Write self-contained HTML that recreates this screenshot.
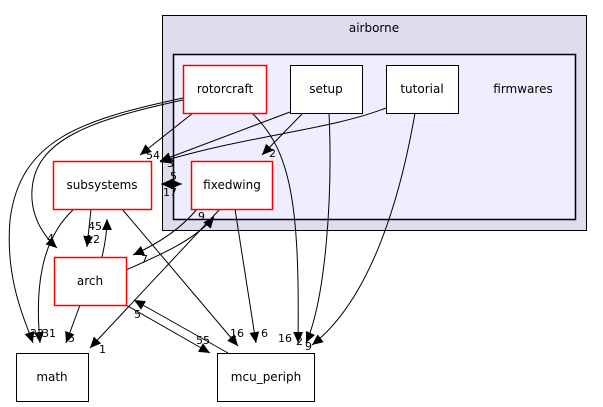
<!DOCTYPE html>
<html><head><meta charset="utf-8"><style>
html,body{margin:0;padding:0;background:#fff;width:603px;height:407px;overflow:hidden}
svg{display:block}
text{font-family:"DejaVu Sans","Liberation Sans",sans-serif}
</style></head><body>
<svg width="603" height="407" viewBox="0 0 603 407" xmlns="http://www.w3.org/2000/svg">
<defs>
<marker id="a" viewBox="0 0 10 10" refX="10" refY="5" markerWidth="11" markerHeight="11" markerUnits="userSpaceOnUse" orient="auto"><path d="M0,0.5 L10,5 L0,9.5 z" fill="#000"/></marker>
</defs>
<rect x="162.5" y="15.5" width="424" height="215" fill="#ddddee" stroke="#000"/>
<text x="374" y="32" font-size="12" text-anchor="middle">airborne</text>
<rect x="173.5" y="54.5" width="402" height="165" fill="#eeeeff" stroke="#000" stroke-width="1.5"/>
<text x="523" y="93" font-size="12" text-anchor="middle">firmwares</text>

<g fill="none" stroke="#000" stroke-width="1">
<path d="M183,98 C80,120 20,140 10,220 C5,280 25,320 33,343" marker-end="url(#a)"/>
<path d="M183,100 C90,120 35,140 32,190 C30,220 48,240 57,248" marker-end="url(#a)"/>
<path d="M193,113 L140,155" marker-end="url(#a)"/>
<path d="M252,113 C290,150 300,200 298,343" marker-end="url(#a)"/>
<path d="M290,112 L160,161" marker-end="url(#a)"/>
<path d="M303,113 L262,155" marker-end="url(#a)"/>
<path d="M329,113 C333,200 325,300 306,343" marker-end="url(#a)"/>
<path d="M386,108 C330,130 250,135 160,162" marker-end="url(#a)"/>
<path d="M415,113 C400,200 370,300 312,345" marker-end="url(#a)"/>
<path d="M161,184 L182,184" marker-end="url(#a)"/>
<path d="M182,184 L161,184" marker-end="url(#a)"/>
<path d="M91,209 L87,247" marker-end="url(#a)"/>
<path d="M102,257 C106,240 107,230 107,219" marker-end="url(#a)"/>
<path d="M74,209 C40,240 35,290 40,343" marker-end="url(#a)"/>
<path d="M122,209 L238,346" marker-end="url(#a)"/>
<path d="M197,209 C180,230 155,245 133,255" marker-end="url(#a)"/>
<path d="M126,270 C160,255 195,240 214,217" marker-end="url(#a)"/>
<path d="M220,209 L90,348" marker-end="url(#a)"/>
<path d="M235,209 L256,343" marker-end="url(#a)"/>
<path d="M80,305 L66,343" marker-end="url(#a)"/>
<path d="M126,305 L210,353" marker-end="url(#a)"/>
<path d="M228,353 L134,300" marker-end="url(#a)"/>
</g>

<g font-size="11" fill="#000">
<text x="146" y="159">54</text>
<text x="167" y="167">3</text>
<text x="170" y="180">5</text>
<text x="163" y="196">17</text>
<text x="269" y="157">2</text>
<text x="47" y="242">4</text>
<text x="88" y="230">45</text>
<text x="86" y="243">12</text>
<text x="198" y="220">9</text>
<text x="141" y="263">7</text>
<text x="134" y="318">5</text>
<text x="30" y="337">23</text>
<text x="42" y="337">31</text>
<text x="68" y="342">5</text>
<text x="99" y="353">1</text>
<text x="196" y="344">55</text>
<text x="230" y="337">16</text>
<text x="261" y="337">6</text>
<text x="278" y="342">16</text>
<text x="296" y="345">2</text>
<text x="305" y="350">9</text>
</g>

<g font-size="12" text-anchor="middle">
<rect x="183.5" y="65.5" width="83" height="48" fill="#fff" stroke="#ff0000" stroke-width="1.5"/>
<text x="225" y="93">rotorcraft</text>
<rect x="290.5" y="65.5" width="72" height="48" fill="#fff" stroke="#000"/>
<text x="326" y="93">setup</text>
<rect x="386.5" y="65.5" width="72" height="48" fill="#fff" stroke="#000"/>
<text x="422" y="93">tutorial</text>
<rect x="191.5" y="161.5" width="81" height="48" fill="#fff" stroke="#ff0000" stroke-width="1.5"/>
<text x="232" y="189">fixedwing</text>
<rect x="53.5" y="161.5" width="98" height="48" fill="#fff" stroke="#ff0000" stroke-width="1.5"/>
<text x="102" y="189">subsystems</text>
<rect x="54.5" y="257.5" width="72" height="48" fill="#fff" stroke="#ff0000" stroke-width="1.5"/>
<text x="90" y="285">arch</text>
<rect x="16.5" y="353.5" width="72" height="48" fill="#fff" stroke="#000"/>
<text x="52" y="381">math</text>
<rect x="217.5" y="353.5" width="97" height="48" fill="#fff" stroke="#000"/>
<text x="266" y="381">mcu_periph</text>
</g>
</svg>
</body></html>
